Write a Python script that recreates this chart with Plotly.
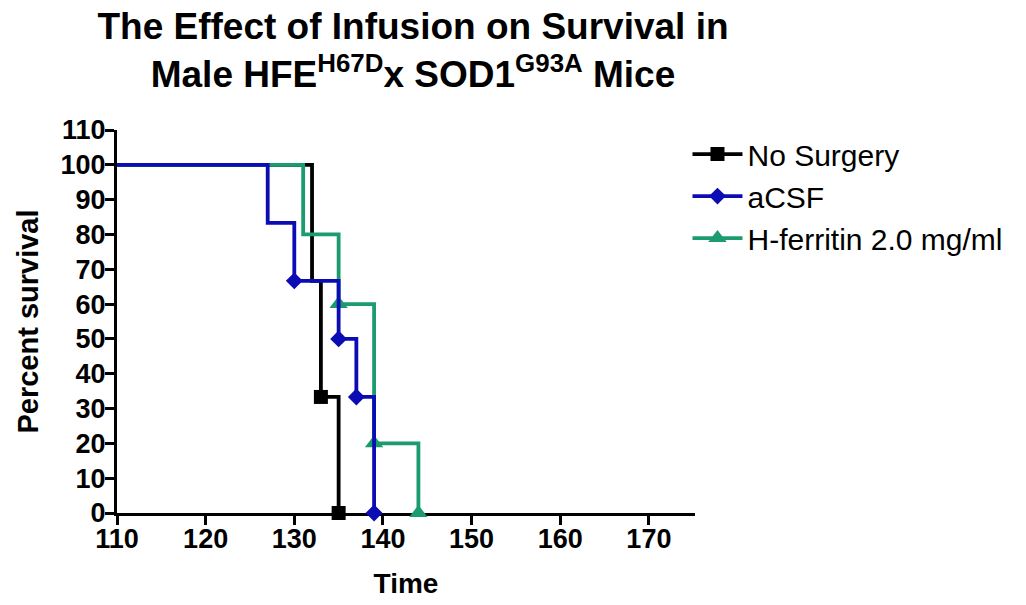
import plotly.graph_objects as go

# Kaplan-Meier steps (time in days, percent survival)
no_surgery_time = [110, 132, 133, 135]
no_surgery_surv = [100, 66.67, 33.33, 0]
no_surgery_marks = [2, 3]

acsf_time = [110, 127, 130, 135, 137, 139]
acsf_surv = [100, 83.33, 66.67, 50, 33.33, 0]
acsf_marks = [2, 3, 4, 5]

hferritin_time = [110, 131, 135, 139, 144]
hferritin_surv = [100, 80, 60, 20, 0]
hferritin_marks = [2, 3, 4]

x_ticks = [110, 120, 130, 140, 150, 160, 170]
y_ticks = [0, 10, 20, 30, 40, 50, 60, 70, 80, 90, 100, 110]

FONT = "Liberation Sans"


def _step_trace(name, x, y, marks, color, symbol, size, rank):
    return go.Scatter(
        x=x,
        y=y,
        name=name,
        mode="lines+markers",
        line=dict(color=color, width=3.8, shape="hv"),
        marker=dict(color=color, symbol=symbol, size=size),
        selectedpoints=marks,
        selected=dict(marker=dict(opacity=1)),
        unselected=dict(marker=dict(opacity=0)),
        cliponaxis=False,
        legendrank=rank,
    )


fig = go.Figure()
fig.add_trace(_step_trace("No Surgery", no_surgery_time, no_surgery_surv, no_surgery_marks,
                          "#000000", "square", 14, 1))
fig.add_trace(_step_trace("H-ferritin 2.0 mg/ml", hferritin_time, hferritin_surv, hferritin_marks,
                          "#1c9c6e", "triangle-up", 16, 3))
fig.add_trace(_step_trace("aCSF", acsf_time, acsf_surv, acsf_marks,
                          "#0c0cb4", "diamond", 13, 2))

fig.update_layout(
    width=1026,
    height=605,
    paper_bgcolor="white",
    plot_bgcolor="white",
    font=dict(family=FONT, color="black"),
    margin=dict(l=109, r=339, t=122, b=100),
    title=dict(
        text="<b>The Effect of Infusion on Survival in<br>Male HFE<sup>H67D</sup>x SOD1<sup>G93A</sup> Mice</b>",
        x=405 / 1026,
        xanchor="center",
        y=1 - 31 / 605,
        yanchor="top",
        font=dict(family=FONT, size=37, color="black"),
    ),
    legend=dict(
        x=0.987,
        y=1.005,
        xanchor="left",
        yanchor="top",
        font=dict(family=FONT, size=30, color="black"),
        itemwidth=50,
        bgcolor="rgba(0,0,0,0)",
        tracegroupgap=0,
    ),
)

fig.update_xaxes(
    range=[110, 175.2],
    tickvals=x_ticks,
    showgrid=False,
    zeroline=False,
    showline=True,
    linecolor="black",
    linewidth=3,
    ticks="outside",
    ticklen=9,
    tickwidth=3,
    tickcolor="black",
    tickfont=dict(family=FONT, size=27, color="black", weight="bold"),
    ticklabelstandoff=-9,
    title=dict(text="<b>Time</b>", font=dict(family=FONT, size=28, color="black"), standoff=20),
    layer="below traces",
)
fig.update_yaxes(
    range=[0, 110],
    tickvals=y_ticks,
    showgrid=False,
    zeroline=False,
    showline=True,
    linecolor="black",
    linewidth=3,
    ticks="outside",
    ticklen=9,
    tickwidth=3,
    tickcolor="black",
    tickfont=dict(family=FONT, size=27, color="black", weight="bold"),
    ticklabelstandoff=-6,
    title=dict(text="<b>Percent survival</b>", font=dict(family=FONT, size=29, color="black"), standoff=14),
    layer="below traces",
)

fig.write_html("out.html")
